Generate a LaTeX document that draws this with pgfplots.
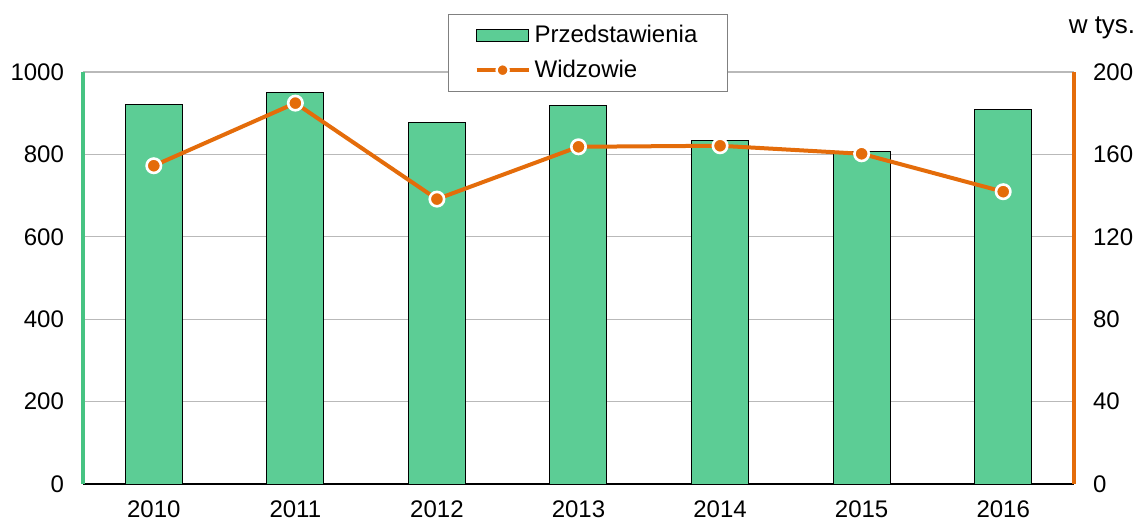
\documentclass[border=0pt]{standalone}
\usepackage{pgfplots}
\pgfplotsset{compat=1.18}
\usepackage{fontspec}
\setmainfont{Liberation Sans}
\definecolor{barg}{RGB}{92,205,149}
\definecolor{axg}{RGB}{70,195,130}
\definecolor{lorange}{RGB}{228,108,10}
\begin{document}
\begin{tikzpicture}
\useasboundingbox (-41.5pt,-18.5pt) rectangle (527pt,242pt);
\pgfplotsset{
  base/.style={
    scale only axis, width=495.5pt, height=206pt,
    xmin=-0.5, xmax=6.5,
    major tick length=0pt,
    tick label style={font=\fontsize{12}{14}\selectfont},
    /pgf/number format/assume math mode=true,
    /pgf/number format/1000 sep={},
  }
}
\begin{axis}[base,
  ymin=0, ymax=1000, ytick={0,200,...,1000},
  axis x line=bottom, axis y line=left,
  x axis line style={-, black, line width=0.8pt},
  y axis line style={-, axg, line width=2pt},
  ymajorgrids, grid style={gray!55, line width=0.6pt},
  xtick={0,...,6}, xticklabels={2010,2011,2012,2013,2014,2015,2016},
  xticklabel style={yshift=-5pt},
  yticklabel style={xshift=-6pt},
  ybar, bar width=28.5pt,
]
\addplot[fill=barg, draw=black, line width=0.5pt] coordinates {
 (0,920) (1,951) (2,878) (3,919) (4,833) (5,807) (6,910)};
\end{axis}
\begin{axis}[base,
  ymin=0, ymax=200, ytick={0,40,...,200},
  axis y line=right, axis x line=none,
  y axis line style={-, lorange, line width=2pt},
  xtick=\empty,
  yticklabel style={xshift=6pt},
  legend style={at={(0.5096,1.1408)}, anchor=north, draw=gray, fill=white,
    font=\fontsize{12}{14}\selectfont, inner xsep=13pt, inner ysep=3.5pt,
    row sep=3pt, line width=0.6pt},
  legend cell align=left,
]
\addlegendimage{legend image code/.code={\draw[fill=barg, draw=black, line width=0.5pt] (0pt,-3pt) rectangle (26pt,3pt);}}
\addlegendentry{Przedstawienia}
\addlegendimage{legend image code/.code={
  \draw[lorange, line width=2pt] (0pt,0pt) -- (26pt,0pt);
  \draw[white, fill=lorange, line width=1.2pt] (13pt,0pt) circle (3pt);}}
\addlegendentry{Widzowie}
\addplot[lorange, line width=2pt, mark=*, mark size=3.6pt,
  mark options={fill=lorange, draw=white, line width=1.3pt}] coordinates {
 (0,154.5) (1,184.9) (2,138.3) (3,163.7) (4,164.2) (5,160.3) (6,141.9)};
\end{axis}
\node[anchor=center, font=\fontsize{13}{15}\selectfont] at (509.5pt,228pt) {w tys.};
\end{tikzpicture}
\end{document}
